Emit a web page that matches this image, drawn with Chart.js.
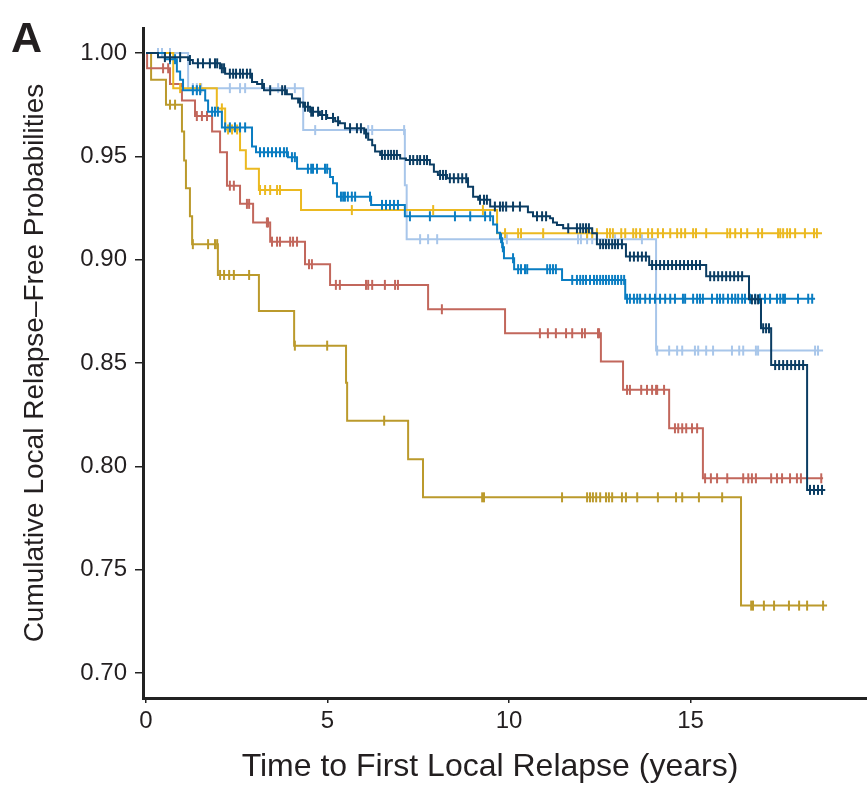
<!DOCTYPE html>
<html>
<head>
<meta charset="utf-8">
<script src="https://cdn.jsdelivr.net/npm/chart.js@4.4.1/dist/chart.umd.min.js"></script>
<style>
  html, body { margin: 0; padding: 0; background: #fff; }
  #wrap { width: 867px; height: 789px; }
</style>
</head>
<body>
<div id="wrap"><canvas id="km-chart" width="867" height="789"></canvas></div>
<script>
// Values: step times (years), survival after each step,
// censor times (years) and the time where each curve stops.
const panelLabel = 'A';
const xTitle = 'Time to First Local Relapse (years)';
const yTitle = 'Cumulative Local Relapse\u2013Free Probabilities';
const xTicks = [0, 5, 10, 15];
const yTicks = [0.70, 0.75, 0.80, 0.85, 0.90, 0.95, 1.00];

const navyTimes = [0, 0.33, 1.16, 1.29, 2.04, 2.18, 2.92, 3.06, 3.25, 3.88, 4.02, 4.19, 4.33, 4.52, 4.79, 4.99, 5.21, 5.34, 5.48, 6.01, 6.12, 6.23, 6.31, 6.45, 7.0, 7.16, 7.82, 7.93, 8.04, 8.29, 8.87, 9.01, 9.15, 9.48, 10.52, 10.66, 11.13, 11.21, 11.32, 11.49, 12.29, 12.42, 13.22, 13.86, 15.43, 16.61, 16.94, 17.22, 18.21];
const navySurv = [1, 0.998, 0.9966, 0.995, 0.9926, 0.990, 0.986, 0.985, 0.982, 0.980, 0.978, 0.976, 0.974, 0.9716, 0.970, 0.9686, 0.967, 0.966, 0.9636, 0.961, 0.958, 0.9554, 0.9523, 0.9507, 0.949, 0.9482, 0.946, 0.9426, 0.941, 0.9394, 0.9353, 0.9305, 0.929, 0.9257, 0.923, 0.921, 0.920, 0.918, 0.9168, 0.9152, 0.9128, 0.9075, 0.9015, 0.8974, 0.892, 0.8808, 0.8668, 0.849, 0.7886];
const navyCensored = [0.52, 0.66, 0.94, 1.21, 1.43, 1.57, 1.76, 1.90, 1.96, 2.09, 2.15, 2.31, 2.40, 2.48, 2.59, 2.67, 2.78, 2.87, 3.20, 3.42, 3.75, 3.83, 4.24, 4.38, 4.46, 4.55, 4.60, 4.74, 4.85, 4.96, 5.15, 5.29, 5.62, 5.81, 5.92, 6.06, 6.50, 6.58, 6.67, 6.75, 6.83, 6.91, 7.27, 7.36, 7.47, 7.55, 7.66, 7.74, 8.10, 8.18, 8.26, 8.37, 8.48, 8.60, 8.71, 8.82, 9.20, 9.31, 9.39, 9.61, 9.75, 9.83, 9.92, 10.11, 10.30, 10.77, 10.91, 11.02, 11.63, 11.87, 11.96, 12.04, 12.12, 12.20, 12.51, 12.59, 12.67, 12.75, 12.84, 12.92, 13.00, 13.11, 13.33, 13.44, 13.55, 13.66, 13.77, 13.94, 14.05, 14.16, 14.27, 14.38, 14.49, 14.60, 14.71, 14.82, 14.93, 15.04, 15.15, 15.26, 15.54, 15.65, 15.76, 15.87, 15.98, 16.09, 16.20, 16.31, 16.42, 16.69, 16.78, 16.86, 17.00, 17.08, 17.16, 17.33, 17.44, 17.55, 17.66, 17.77, 17.88, 17.99, 18.10, 18.29, 18.40, 18.51, 18.62];
const navyEnd = 18.71;

const blueTimes = [0, 0.52, 0.85, 0.94, 1.02, 1.63, 1.71, 2.09, 2.92, 3.03, 3.91, 4.16, 5.07, 5.15, 5.26, 6.20, 7.13, 9.56, 9.67, 9.75, 9.81, 9.86, 10.14, 11.46, 13.20];
const blueSurv = [1, 0.997, 0.991, 0.987, 0.982, 0.977, 0.9716, 0.964, 0.9547, 0.952, 0.9496, 0.944, 0.940, 0.937, 0.9305, 0.9265, 0.921, 0.917, 0.913, 0.9104, 0.906, 0.9007, 0.8954, 0.8902, 0.8811];
const blueCensored = [0.66, 0.80, 1.29, 1.40, 1.49, 1.82, 1.90, 1.98, 2.18, 2.31, 2.45, 2.59, 2.73, 3.14, 3.25, 3.36, 3.47, 3.58, 3.69, 3.80, 3.88, 4.02, 4.10, 4.46, 4.55, 4.60, 4.71, 4.93, 4.99, 5.37, 5.43, 5.48, 5.56, 5.67, 5.76, 6.17, 6.50, 6.61, 6.72, 6.83, 6.94, 7.27, 7.82, 8.51, 8.93, 9.34, 9.48, 9.78, 9.83, 10.11, 10.25, 10.33, 10.44, 10.50, 11.05, 11.13, 11.21, 11.29, 11.74, 11.87, 11.96, 12.04, 12.12, 12.23, 12.34, 12.42, 12.51, 12.59, 12.67, 12.75, 12.84, 12.92, 13.00, 13.09, 13.17, 13.25, 13.33, 13.44, 13.53, 13.61, 13.75, 13.88, 14.02, 14.16, 14.30, 14.44, 14.57, 14.79, 14.85, 15.07, 15.18, 15.26, 15.34, 15.59, 15.73, 15.81, 15.90, 16.03, 16.14, 16.23, 16.31, 16.42, 16.50, 16.64, 16.78, 16.91, 17.05, 17.19, 17.38, 17.47, 17.55, 17.60, 17.96, 18.24, 18.35];
const blueEnd = 18.43;

const lightTimes = [0, 1.16, 4.33, 7.13, 7.18, 14.05];
const lightSurv = [1, 0.983, 0.9627, 0.936, 0.9099, 0.856];
const lightCensored = [0.33, 0.44, 0.66, 1.29, 1.40, 1.52, 2.31, 2.59, 2.73, 3.64, 4.10, 4.66, 6.12, 6.23, 7.11, 7.55, 7.77, 8.02, 9.94, 11.90, 11.98, 12.15, 12.29, 12.92, 13.66, 14.08, 14.41, 14.63, 14.77, 15.12, 15.21, 15.43, 15.62, 16.14, 16.34, 16.45, 16.80, 16.86, 18.43, 18.51];
const lightEnd = 18.65;

const yellowTimes = [0, 0.75, 1.95, 2.18, 2.59, 2.75, 3.11, 4.27, 9.67];
const yellowSurv = [1, 0.983, 0.9732, 0.963, 0.953, 0.944, 0.9337, 0.924, 0.9128];
const yellowCensored = [0.94, 1.49, 2.09, 2.26, 2.37, 2.51, 3.14, 3.28, 3.42, 3.61, 3.69, 5.67, 7.91, 9.28, 9.89, 10.25, 10.33, 10.94, 12.15, 12.29, 12.42, 12.70, 12.78, 12.86, 13.09, 13.20, 13.42, 13.50, 13.61, 13.83, 13.94, 14.10, 14.24, 14.44, 14.63, 14.74, 14.85, 15.07, 15.15, 15.43, 16.01, 16.09, 16.23, 16.39, 16.56, 16.86, 16.97, 17.41, 17.47, 17.55, 17.66, 17.74, 17.88, 18.15, 18.40, 18.48];
const yellowEnd = 18.62;

const redTimes = [0, 0.03, 0.66, 0.99, 1.35, 1.82, 2.04, 2.23, 2.59, 2.95, 3.42, 4.38, 5.07, 7.77, 9.89, 12.53, 13.14, 14.41, 15.34];
const redSurv = [1, 0.9926, 0.985, 0.977, 0.9695, 0.962, 0.952, 0.9358, 0.927, 0.918, 0.9087, 0.8978, 0.8878, 0.876, 0.8644, 0.8507, 0.837, 0.8184, 0.7942];
const redCensored = [0.47, 0.61, 1.40, 1.54, 1.68, 2.31, 2.42, 2.78, 2.84, 3.33, 3.36, 3.47, 3.61, 3.69, 3.97, 4.05, 4.16, 4.49, 4.57, 5.23, 5.34, 6.06, 6.12, 6.23, 6.58, 6.86, 6.94, 8.15, 10.85, 11.07, 11.29, 11.57, 11.74, 12.01, 12.09, 12.45, 12.48, 13.25, 13.33, 13.64, 13.80, 13.94, 14.05, 14.08, 14.27, 14.57, 14.66, 14.77, 14.88, 15.04, 15.18, 15.40, 15.56, 15.73, 16.01, 16.45, 16.59, 16.69, 16.80, 17.22, 17.38, 17.52, 17.74, 17.93, 18.04, 18.60];
const redEnd = 18.65;

const oliveTimes = [0, 0.14, 0.55, 0.99, 1.05, 1.10, 1.21, 1.27, 1.98, 3.11, 4.08, 5.51, 5.54, 7.22, 7.63, 16.39];
const oliveSurv = [1, 0.987, 0.975, 0.962, 0.948, 0.9345, 0.921, 0.9075, 0.8926, 0.8752, 0.8584, 0.8405, 0.8221, 0.8034, 0.785, 0.7326];
const oliveCensored = [0.66, 0.80, 1.29, 1.71, 1.90, 1.96, 2.04, 2.15, 2.29, 2.42, 2.84, 4.10, 4.99, 6.56, 9.26, 9.31, 11.46, 12.15, 12.23, 12.31, 12.40, 12.51, 12.67, 12.75, 12.84, 13.11, 13.22, 13.53, 14.10, 14.60, 14.77, 15.23, 15.87, 16.67, 16.72, 17.02, 17.30, 17.71, 17.99, 18.21, 18.65];
const oliveEnd = 18.76;

// first entry is drawn on top
const series = [
    { times: navyTimes, surv: navySurv, censored: navyCensored, end: navyEnd, color: '#0b3d63' },
    { times: blueTimes, surv: blueSurv, censored: blueCensored, end: blueEnd, color: '#0a7dc2' },
    { times: yellowTimes, surv: yellowSurv, censored: yellowCensored, end: yellowEnd, color: '#ebb920' },
    { times: redTimes, surv: redSurv, censored: redCensored, end: redEnd, color: '#c2675c' },
    { times: oliveTimes, surv: oliveSurv, censored: oliveCensored, end: oliveEnd, color: '#bb9a2c' },
    { times: lightTimes, surv: lightSurv, censored: lightCensored, end: lightEnd, color: '#a8c6ea' }
];

function survivalAt(times, surv, t) {
    let v = surv[0];
    for (let i = 0; i < times.length; i++) {
        if (times[i] <= t) v = surv[i];
    }
    return v;
}

const datasets = [];
series.forEach(s => {
    const steps = s.times.map((t, i) => ({ x: t, y: s.surv[i] }));
    steps.push({ x: s.end, y: s.surv[s.surv.length - 1] });

    // censor marks (vertical ticks on the curve)
    datasets.push({
        data: s.censored.map(t => ({ x: t, y: survivalAt(s.times, s.surv, t) })),
        showLine: false,
        pointStyle: 'line',
        pointRotation: 90,
        pointRadius: 5,
        pointBorderWidth: 2,
        pointBorderColor: s.color,
        pointBackgroundColor: s.color
    });
    // step curve
    datasets.push({
        data: steps,
        showLine: true,
        stepped: 'before',
        pointRadius: 0,
        borderColor: s.color,
        borderWidth: 2,
        fill: false
    });
});

const textColor = '#231f20';
const baseFont = '"Liberation Sans", Arial, Helvetica, sans-serif';

// Panel letter and x axis title
const figureText = {
    id: 'figureText',
    afterDraw(chart) {
        const ctx = chart.ctx;
        ctx.save();
        ctx.fillStyle = textColor;
        ctx.textAlign = 'left';
        ctx.textBaseline = 'alphabetic';
        ctx.font = 'bold 43px ' + baseFont;
        ctx.fillText(panelLabel, 11, 52);
        ctx.font = '32px ' + baseFont;
        ctx.textAlign = 'center';
        ctx.textBaseline = 'middle';
        ctx.fillText(xTitle, 490, 767);
        ctx.restore();
    }
};

const ctx = document.getElementById('km-chart').getContext('2d');
new Chart(ctx, {
    type: 'scatter',
    data: { datasets: datasets },
    options: {
        responsive: false,
        animation: false,
        events: [],
        layout: { autoPadding: false, padding: { top: 28, right: 0, bottom: 0, left: 0 } },
        plugins: {
            legend: { display: false },
            tooltip: { enabled: false }
        },
        scales: {
            x: {
                type: 'linear',
                min: -0.083,
                max: 19.86,
                afterFit: scale => { scale.height = 91; scale.paddingLeft = 0; scale.paddingRight = 0; },
                afterBuildTicks: scale => { scale.ticks = xTicks.map(v => ({ value: v })); },
                border: { display: true, color: '#222', width: 3 },
                grid: { display: true, drawOnChartArea: false, drawTicks: true, tickLength: 5, color: '#222', lineWidth: 1.5 },
                ticks: {
                    color: textColor,
                    padding: 4,
                    maxRotation: 0,
                    font: { family: baseFont, size: 24 },
                    callback: v => String(v)
                }
            },
            y: {
                type: 'linear',
                min: 0.6879,
                max: 1.0121,
                afterFit: scale => { scale.width = 143; scale.paddingTop = 0; scale.paddingBottom = 0; },
                afterBuildTicks: scale => { scale.ticks = yTicks.map(v => ({ value: v })); },
                border: { display: true, color: '#222', width: 3 },
                grid: { display: true, drawOnChartArea: false, drawTicks: true, tickLength: 8, color: '#222', lineWidth: 1.5 },
                title: {
                    display: true,
                    text: yTitle,
                    color: textColor,
                    font: { family: baseFont, size: 28 },
                    padding: { top: 18, bottom: 0 }
                },
                ticks: {
                    color: textColor,
                    padding: 8,
                    font: { family: baseFont, size: 24 },
                    callback: v => v.toFixed(2)
                }
            }
        }
    },
    plugins: [figureText]
});
</script>
</body>
</html>
